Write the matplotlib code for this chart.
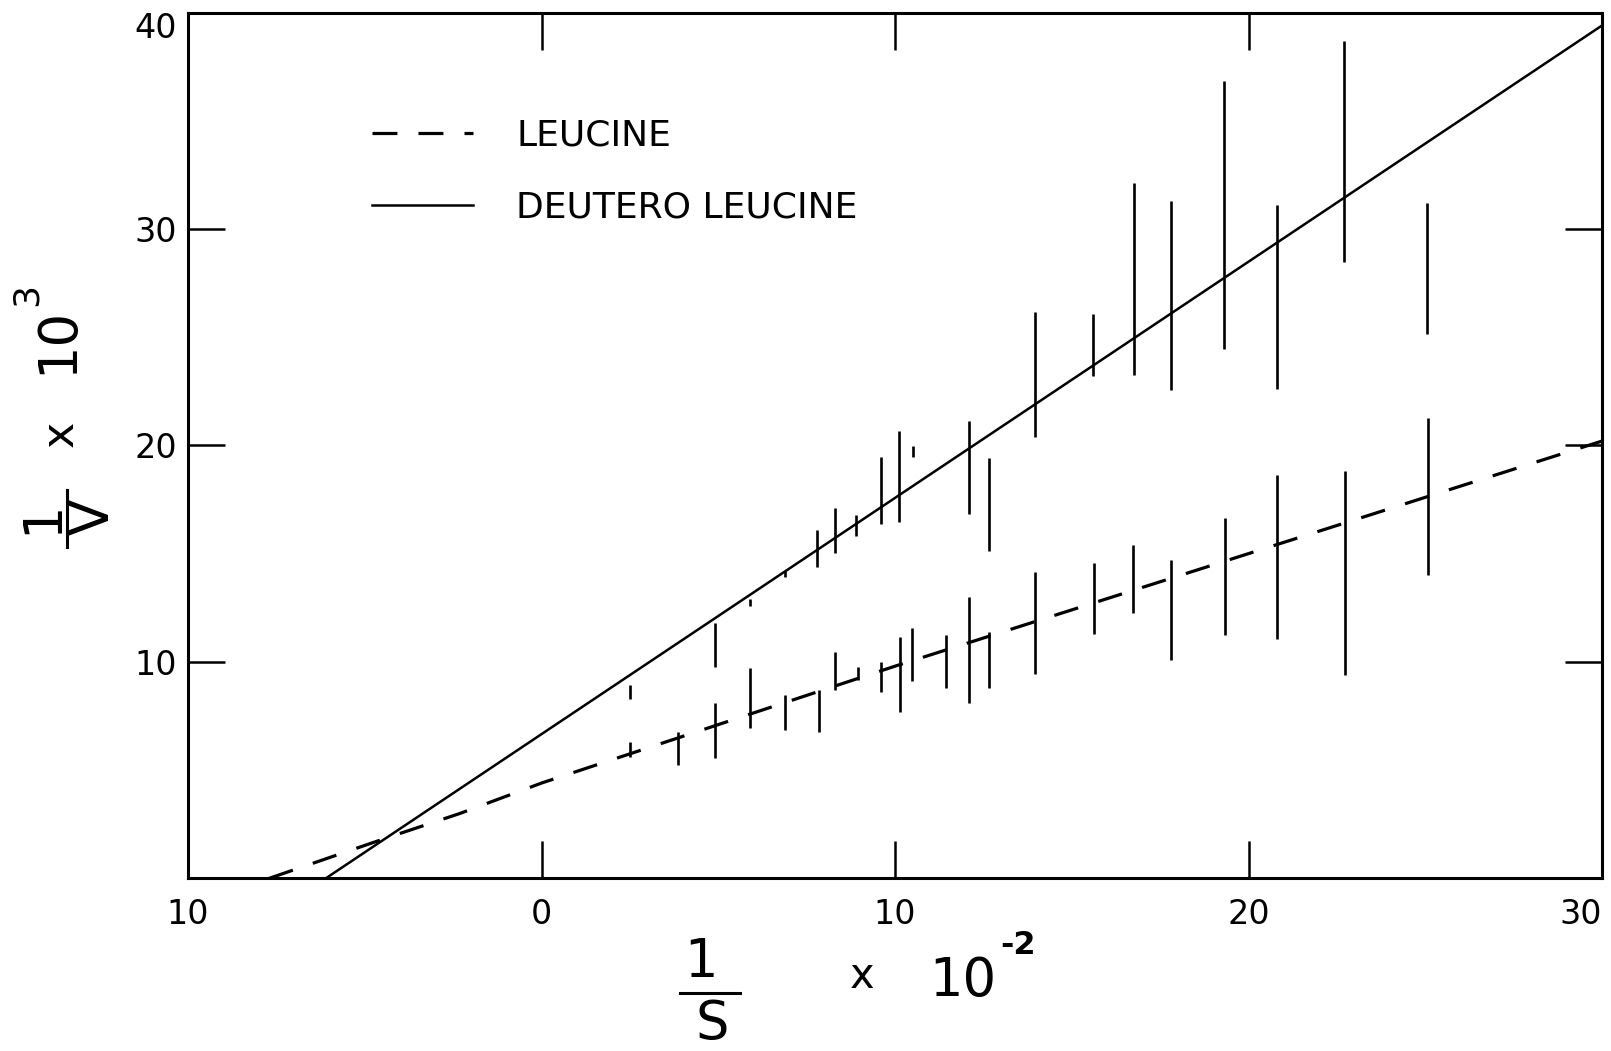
import matplotlib
matplotlib.use('Agg')
import matplotlib.pyplot as plt
from matplotlib.lines import Line2D

# Lineweaver-Burk plot: 1/S x 10^-2 against 1/V x 10^3

# fitted lines
leucine_line_x = [-7.7, -4.5, -2.3, 0, 5, 10, 15, 20, 25, 30]
leucine_line_y = [0.0, 1.8, 3.0, 4.4, 7.1, 9.8, 12.4, 15.0, 17.6, 20.2]
deutero_line_x = [-6.1, 0, 30]
deutero_line_y = [0.0, 6.66, 39.4]

# vertical error bars, deutero leucine (upper set)
deutero_x = [2.5, 4.9, 5.9, 6.9, 7.8, 8.3, 8.9, 9.6, 10.1, 10.5, 12.1, 12.65,
             13.95, 15.6, 16.75, 17.8, 19.3, 20.8, 22.7, 25.05]
deutero_lo = [8.3, 9.75, 12.6, 13.9, 14.4, 15.05, 15.8, 16.35, 16.45, 19.45, 16.85, 15.1,
              20.4, 23.2, 23.25, 22.55, 24.45, 22.6, 28.45, 25.15]
deutero_hi = [8.95, 11.8, 12.9, 14.2, 16.1, 17.1, 16.8, 19.45, 20.65, 19.95, 21.15, 19.4,
              26.15, 26.05, 32.1, 31.3, 36.85, 31.1, 38.7, 31.2]

# vertical error bars, leucine (lower set)
leucine_x = [2.5, 3.87, 4.9, 5.9, 6.88, 7.84, 8.31, 8.95, 9.6, 10.13, 10.49, 11.43,
             12.09, 12.65, 13.97, 15.62, 16.73, 17.82, 19.33, 20.82, 22.74, 25.08]
leucine_lo = [5.6, 5.25, 5.55, 6.95, 6.85, 6.75, 8.7, 9.15, 8.6, 7.7, 9.1, 8.8,
              8.1, 8.8, 9.45, 11.3, 12.25, 10.1, 11.25, 11.05, 9.4, 14.0]
leucine_hi = [6.3, 6.75, 8.1, 9.7, 8.45, 8.7, 10.45, 9.75, 10.0, 11.15, 11.55, 11.25,
              13.0, 11.4, 14.15, 14.55, 15.4, 14.7, 16.65, 18.65, 18.8, 21.25]

x_ticks = [-10, 0, 10, 20, 30]
x_tick_labels = ['10', '0', '10', '20', '30']
y_ticks = [10, 20, 30, 40]
y_tick_labels = ['10', '20', '30', '40']

W, H = 1611, 1051
plt.rcParams['font.family'] = ['DejaVu Sans']

fig = plt.figure(figsize=(W / 100, H / 100), dpi=100)
ax = fig.add_axes([188 / W, 1 - 878.3 / H, (1602 - 188) / W, (878.3 - 12.5) / H])

leu, = ax.plot(leucine_line_x, leucine_line_y, color='black', lw=2.3,
               dashes=(7.8, 6.6), label='LEUCINE')
deu, = ax.plot(deutero_line_x, deutero_line_y, color='black', lw=1.8,
               label='DEUTERO LEUCINE')
ax.vlines(deutero_x, deutero_lo, deutero_hi, color='black', lw=1.9)
ax.vlines(leucine_x, leucine_lo, leucine_hi, color='black', lw=1.9)

ax.set_xlim(-10, 30)
ax.set_ylim(0, 40)
ax.set_xticks(x_ticks)
ax.set_xticklabels(x_tick_labels)
ax.set_yticks(y_ticks)
ax.set_yticklabels(y_tick_labels)
ax.tick_params(direction='in', length=26.5, width=1.8, top=True, right=True,
               labelsize=24)
ax.tick_params(axis='x', pad=14)
ax.tick_params(axis='y', pad=8)
ax.get_yticklabels()[-1].set_va('top')
ax.get_xticklabels()[-1].set_ha('right')
for sp in ax.spines.values():
    sp.set_linewidth(2.2)

ax.legend(handles=[leu, deu], loc='upper left', frameon=False, fontsize=26,
          handlelength=2.8, handletextpad=1.2, labelspacing=1.05,
          borderpad=0, borderaxespad=0,
          bbox_to_anchor=(372 / W, 1 - 119 / H), bbox_transform=fig.transFigure)


def put(x, y, s, **kw):
    fig.text(x / W, 1 - y / H, s, ha='center', va='center', **kw)


def bar(x0, y0, x1, y1):
    fig.add_artist(Line2D([x0 / W, x1 / W], [1 - y0 / H, 1 - y1 / H],
                          transform=fig.transFigure, color='black', lw=2.2))


# x axis label: 1/S x 10^-2
put(701, 962, '1', fontsize=38)
bar(680, 993, 740, 993)
put(712, 1024, 'S', fontsize=38)
put(862, 976, 'x', fontsize=30)
put(963, 981, '10', fontsize=38)
put(1018, 945, '-2', fontsize=23, fontweight='bold')

# y axis label: 1/V x 10^3
put(42, 517, '1', fontsize=38, rotation=90)
bar(67, 490, 67, 547)
put(94, 517, 'V', fontsize=38, rotation=90)
put(60, 434, 'x', fontsize=32, rotation=90)
put(57, 340, '10', fontsize=38, rotation=90)
put(27, 295, '3', fontsize=26, rotation=90)

fig.savefig('out.png', dpi=100, facecolor='white')
